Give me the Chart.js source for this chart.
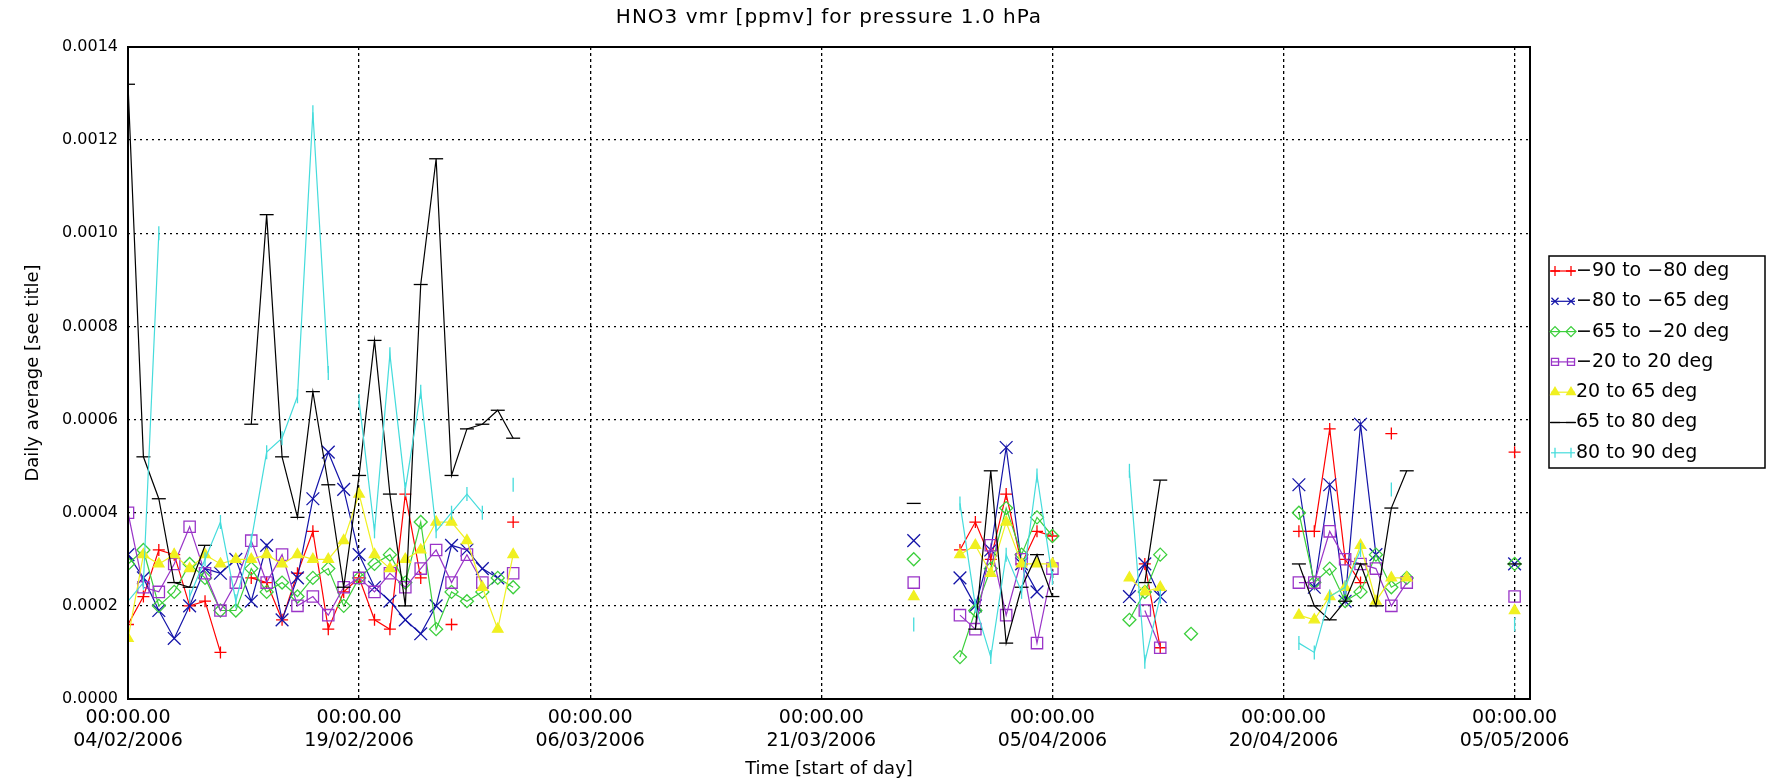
<!DOCTYPE html>
<html>
<head>
<meta charset="utf-8">
<script src="https://cdn.jsdelivr.net/npm/chart.js@4.4.1/dist/chart.umd.min.js"></script>
<style>
  html, body { margin: 0; padding: 0; background: #fff; }
  canvas { display: block; }
</style>
</head>
<body>
<canvas id="hno3Chart" width="1782" height="784"></canvas>
<script>
// days since 04/02/2006 00:00
const days = [
  0, 1, 2, 3, 4, 5, 6, 7, 8, 9,
  10, 11, 12, 13, 14, 15, 16, 17, 18, 19,
  20, 21, 22, 23, 24, 25, 26, 27, 28, 29,
  30, 31, 32, 33, 34, 35, 36, 37, 38, 39,
  40, 41, 42, 43, 44, 45, 46, 47, 48, 49,
  50, 51, 52, 53, 54, 55, 56, 57, 58, 59,
  60, 61, 62, 63, 64, 65, 66, 67, 68, 69,
  70, 71, 72, 73, 74, 75, 76, 77, 78, 79,
  80, 81, 82, 83, 84, 85, 86, 87, 88, 89,
  90
];

const seriesNames = ['-90 to -80 deg', '-80 to -65 deg', '-65 to -20 deg', '-20 to 20 deg',
  '20 to 65 deg', '65 to 80 deg', '80 to 90 deg'];

const latM90 = [
  0.00016, 0.00022, 0.00032, 0.00031, 0.00020, 0.00021, 0.00010, null, 0.00026, 0.00025,
  0.00017, 0.00027, 0.00036, 0.00015, 0.00023, 0.00026, 0.00017, 0.00015, 0.00044, 0.00026,
  null, 0.00016, null, null, null, 0.00038, null, null, null, null,
  null, null, null, null, null, null, null, null, null, null,
  null, null, null, null, null, null, null, null, null, null,
  null, null, null, null, 0.00032, 0.00038, 0.00030, 0.00044, 0.00029, 0.00036,
  0.00035, null, null, null, null, null, 0.00029, 0.00011, null, null,
  null, null, null, null, null, null, 0.00036, 0.00036, 0.00058, 0.00030,
  0.00025, null, 0.00057, null, null, null, null, null, null, null,
  0.00053
];
const latM80 = [
  0.00031, 0.00026, 0.00019, 0.00013, 0.00020, 0.00028, 0.00027, 0.00030, 0.00021, 0.00033,
  0.00017, 0.00026, 0.00043, 0.00053, 0.00045, 0.00031, 0.00024, 0.00021, 0.00017, 0.00014,
  0.00020, 0.00033, 0.00032, 0.00028, 0.00026, null, null, null, null, null,
  null, null, null, null, null, null, null, null, null, null,
  null, null, null, null, null, null, null, null, null, null,
  null, 0.00034, null, null, 0.00026, 0.00020, 0.00032, 0.00054, 0.00029, 0.00023,
  null, null, null, null, null, 0.00022, 0.00029, 0.00022, null, null,
  null, null, null, null, null, null, 0.00046, 0.00024, 0.00046, 0.00021,
  0.00059, 0.00031, null, null, null, null, null, null, null, null,
  0.00029
];
const latM65 = [
  0.00029, 0.00032, 0.00020, 0.00023, 0.00029, 0.00026, 0.00019, 0.00019, 0.00028, 0.00023,
  0.00025, 0.00022, 0.00026, 0.00028, 0.00020, 0.00026, 0.00029, 0.00031, 0.00025, 0.00038,
  0.00015, 0.00023, 0.00021, 0.00023, 0.00026, 0.00024, null, null, null, null,
  null, null, null, null, null, null, null, null, null, null,
  null, null, null, null, null, null, null, null, null, null,
  null, 0.00030, null, null, 0.00009, 0.00019, 0.00028, 0.00041, 0.00031, 0.00039,
  0.00035, null, null, null, null, 0.00017, 0.00023, 0.00031, null, 0.00014,
  null, null, null, null, null, null, 0.00040, 0.00025, 0.00028, 0.00021,
  0.00023, 0.00031, 0.00024, 0.00026, null, null, null, null, null, null,
  0.00029
];
const latM20 = [
  0.00040, 0.00024, 0.00023, 0.00029, 0.00037, 0.00027, 0.00019, 0.00025, 0.00034, 0.00025,
  0.00031, 0.00020, 0.00022, 0.00018, 0.00024, 0.00026, 0.00023, 0.00027, 0.00024, 0.00028,
  0.00032, 0.00025, 0.00031, 0.00025, null, 0.00027, null, null, null, null,
  null, null, null, null, null, null, null, null, null, null,
  null, null, null, null, null, null, null, null, null, null,
  null, 0.00025, null, null, 0.00018, 0.00015, 0.00033, 0.00018, 0.00030, 0.00012,
  0.00028, null, null, null, null, null, 0.00019, 0.00011, null, null,
  null, null, null, null, null, null, 0.00025, 0.00025, 0.00036, 0.00030,
  0.00029, 0.00028, 0.00020, 0.00025, null, null, null, null, null, null,
  0.00022
];
const latP20 = [
  0.00013, 0.00031, 0.00029, 0.00031, 0.00028, 0.00031, 0.00029, 0.00030, 0.00030, 0.00031,
  0.00029, 0.00031, 0.00030, 0.00030, 0.00034, 0.00044, 0.00031, 0.00028, 0.00030, 0.00032,
  0.00038, 0.00038, 0.00034, 0.00024, 0.00015, 0.00031, null, null, null, null,
  null, null, null, null, null, null, null, null, null, null,
  null, null, null, null, null, null, null, null, null, null,
  null, 0.00022, null, null, 0.00031, 0.00033, 0.00027, 0.00038, 0.00029, 0.00029,
  0.00029, null, null, null, null, 0.00026, 0.00023, 0.00024, null, null,
  null, null, null, null, null, null, 0.00018, 0.00017, 0.00022, 0.00024,
  0.00033, 0.00021, 0.00026, 0.00026, null, null, null, null, null, null,
  0.00019
];
const latP65 = [
  0.00132, 0.00052, 0.00043, 0.00025, 0.00024, 0.00033, null, null, 0.00059, 0.00104,
  0.00052, 0.00039, 0.00066, 0.00046, 0.00024, 0.00048, 0.00077, 0.00044, 0.00020, 0.00089,
  0.00116, 0.00048, 0.00058, 0.00059, 0.00062, 0.00056, null, null, null, null,
  null, null, null, null, null, null, null, null, null, null,
  null, null, null, null, null, null, null, null, null, null,
  null, 0.00042, null, null, null, 0.00015, 0.00049, 0.00012, 0.00024, 0.00031,
  0.00022, null, null, null, null, null, 0.00025, 0.00047, null, null,
  null, null, null, null, null, null, 0.00029, 0.00020, 0.00017, 0.00021,
  0.00029, 0.00020, 0.00041, 0.00049, null, null, null, null, null, null,
  0.00029
];
const latP80 = [
  0.00021, 0.00025, 0.00100, null, 0.00022, 0.00030, 0.00038, 0.00021, 0.00034, 0.00053,
  0.00056, 0.00065, 0.00126, 0.00070, null, 0.00064, 0.00036, 0.00074, 0.00045, 0.00066,
  0.00036, 0.00040, 0.00044, 0.00040, null, 0.00046, null, null, null, null,
  null, null, null, null, null, null, null, null, null, null,
  null, null, null, null, null, null, null, null, null, null,
  null, 0.00016, null, null, 0.00042, 0.00020, 0.00009, 0.00031, 0.00023, 0.00048,
  0.00026, null, null, null, null, 0.00049, 0.00008, 0.00022, null, null,
  null, null, null, null, null, null, 0.00012, 0.00010, 0.00022, 0.00024,
  0.00032, null, 0.00045, null, null, null, null, null, null, null,
  0.00016
];

const xTickDays = [0, 15, 30, 45, 60, 75, 90];
const xTickLabels = [
  ['00:00.00', '04/02/2006'], ['00:00.00', '19/02/2006'], ['00:00.00', '06/03/2006'],
  ['00:00.00', '21/03/2006'], ['00:00.00', '05/04/2006'], ['00:00.00', '20/04/2006'],
  ['00:00.00', '05/05/2006']
];
const yTicks = [0, 0.0002, 0.0004, 0.0006, 0.0008, 0.0010, 0.0012, 0.0014];

const chartTitle = 'HNO3 vmr [ppmv] for pressure 1.0 hPa';

const FONT = '"DejaVu Sans", sans-serif';
Chart.defaults.font.family = FONT;
Chart.defaults.font.size = 18;
Chart.defaults.color = '#000';

function toPoints(values) {
  return days.map((d, i) => ({ x: d, y: values[i] }));
}

function makeSet(label, values, color, style, radius, fill, rotation, order) {
  return {
    label: label,
    data: toPoints(values),
    borderColor: color,
    backgroundColor: color,
    borderWidth: 1.2,
    pointStyle: style,
    pointRadius: radius,
    pointRotation: rotation,
    pointBorderColor: color,
    pointBackgroundColor: fill,
    pointBorderWidth: 1.3,
    spanGaps: false,
    tension: 0,
    order: order
  };
}

const datasets = [
  makeSet(seriesNames[0], latM90, '#ff0000', 'cross', 6, 'rgba(0,0,0,0)', 0, 6),
  makeSet(seriesNames[1], latM80, '#1414a8', 'crossRot', 9, 'rgba(0,0,0,0)', 0, 5),
  makeSet(seriesNames[2], latM65, '#3ccf3c', 'rectRot', 6.5, 'rgba(0,0,0,0)', 0, 4),
  makeSet(seriesNames[3], latM20, '#9a35c8', 'rect', 8, 'rgba(0,0,0,0)', 0, 3),
  makeSet(seriesNames[4], latP20, '#f0f020', 'triangle', 6, '#f0f020', 0, 2),
  makeSet(seriesNames[5], latP65, '#000000', 'line', 7, 'rgba(0,0,0,0)', 0, 1),
  makeSet(seriesNames[6], latP80, '#45dcdc', 'line', 7, 'rgba(0,0,0,0)', 90, 0)
];

// frame, main title and the boxed legend
const decorPlugin = {
  id: 'decor',
  afterDraw(chart) {
    const ctx = chart.ctx;
    const a = chart.chartArea;
    ctx.save();
    ctx.strokeStyle = '#000';
    ctx.lineWidth = 2;
    ctx.strokeRect(a.left, a.top, a.right - a.left, a.bottom - a.top);

    ctx.fillStyle = '#000';
    ctx.font = '20px ' + FONT;
    ctx.textAlign = 'center';
    ctx.textBaseline = 'middle';
    if ('letterSpacing' in ctx) ctx.letterSpacing = '1px';
    ctx.fillText(chartTitle, (a.left + a.right) / 2, 18);
    if ('letterSpacing' in ctx) ctx.letterSpacing = '0px';

    const bx = a.right + 19, by = 256, bw = 216, bh = 212, rowH = 30.3;
    ctx.lineWidth = 1.5;
    ctx.strokeRect(bx, by, bw, bh);
    ctx.textAlign = 'left';
    ctx.font = '19px ' + FONT;
    chart.data.datasets.forEach((ds, i) => {
      const y = by + 15 + i * rowH;
      ctx.strokeStyle = ds.borderColor;
      ctx.lineWidth = 1.2;
      ctx.beginPath();
      ctx.moveTo(bx + 2, y);
      ctx.lineTo(bx + 26, y);
      ctx.stroke();
      if (Chart.helpers && Chart.helpers.drawPoint) {
        [bx + 6, bx + 22].forEach(px => {
          ctx.fillStyle = ds.pointBackgroundColor;
          ctx.lineWidth = ds.pointBorderWidth;
          Chart.helpers.drawPoint(ctx, {
            pointStyle: ds.pointStyle,
            radius: Math.min(ds.pointRadius, 5),
            rotation: ds.pointRotation,
            borderWidth: ds.pointBorderWidth
          }, px, y);
        });
      }
      ctx.fillStyle = '#000';
      ctx.fillText(ds.label.replace(/-/g, '\u2212'), bx + 27, y);
    });
    ctx.restore();
  }
};

new Chart(document.getElementById('hno3Chart'), {
  type: 'line',
  data: { datasets: datasets },
  options: {
    responsive: false,
    animation: false,
    devicePixelRatio: 1,
    layout: { padding: { top: 47, right: 252, left: 0, bottom: 0 } },
    plugins: { legend: { display: false }, tooltip: { enabled: false } },
    scales: {
      x: {
        type: 'linear',
        min: 0,
        max: 91,
        afterBuildTicks: s => { s.ticks = xTickDays.map(v => ({ value: v })); },
        afterFit: s => { s.height = 85; },
        ticks: {
          autoSkip: false,
          maxRotation: 0,
          padding: 8,
          font: { size: 19 },
          callback: (v, i) => xTickLabels[i]
        },
        grid: { color: '#000', lineWidth: 1.3, drawTicks: false },
        border: { display: false, dash: [3, 3] },
        title: { display: true, text: 'Time [start of day]', padding: { top: 0, bottom: 4 } }
      },
      y: {
        min: 0,
        max: 0.0014,
        afterBuildTicks: s => { s.ticks = yTicks.map(v => ({ value: v })); },
        afterFit: s => { s.width = 128; },
        ticks: {
          padding: 10,
          font: { size: 16 },
          callback: v => v.toFixed(4)
        },
        grid: { color: '#000', lineWidth: 1.3, drawTicks: false },
        border: { display: false, dash: [2, 4] },
        title: { display: true, text: 'Daily average [see title]', padding: { top: 23, bottom: 0 } }
      }
    }
  },
  plugins: [decorPlugin]
});
</script>
</body>
</html>
